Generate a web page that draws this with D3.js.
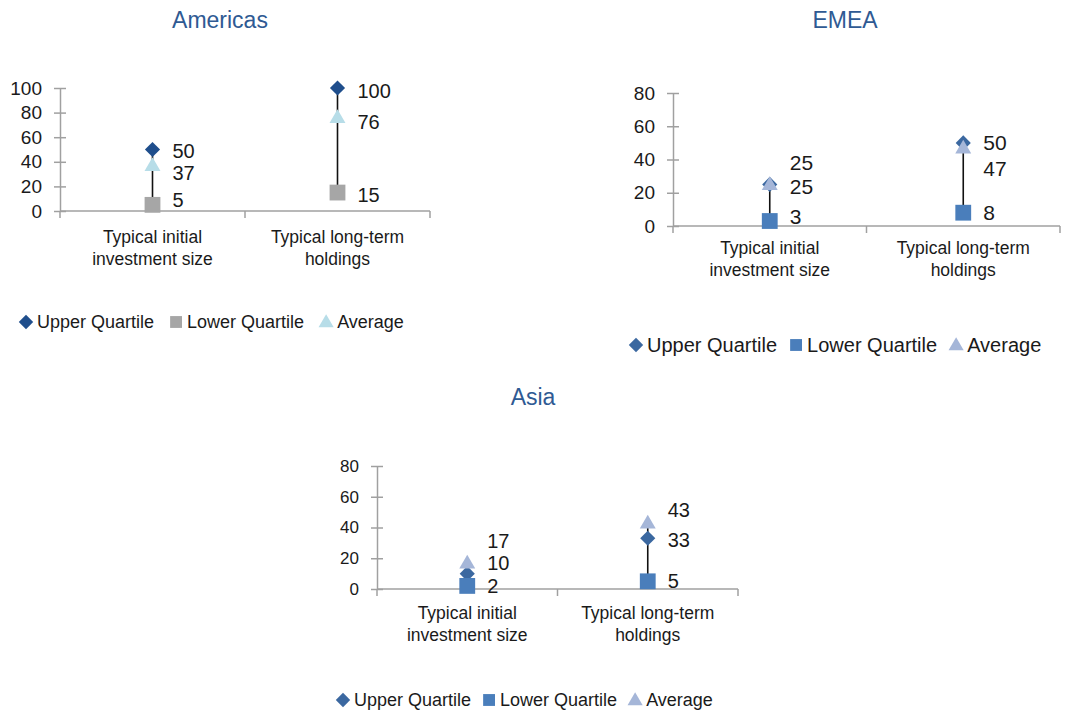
<!DOCTYPE html>
<html>
<head>
<meta charset="utf-8">
<script src="https://cdn.jsdelivr.net/npm/d3@7"></script>
<style>
  html, body { margin: 0; padding: 0; background: #fff; }
  svg { display: block; font-family: "Liberation Sans", Arial, sans-serif; }
</style>
</head>
<body>
<div id="chart"></div>
<script>
// ---- data ----
const categoryLines = [['Typical initial', 'investment size'], ['Typical long-term', 'holdings']];
const seriesNames = ['Upper Quartile', 'Lower Quartile', 'Average'];

const americasUpper = [50, 100];
const americasLower = [5, 15];
const americasAverage = [37, 76];
const americasTicks = [0, 20, 40, 60, 80, 100];

const emeaUpper = [25, 50];
const emeaLower = [3, 8];
const emeaAverage = [25, 47];
const emeaTicks = [0, 20, 40, 60, 80];

const asiaUpper = [10, 33];
const asiaLower = [2, 5];
const asiaAverage = [17, 43];
const asiaTicks = [0, 20, 40, 60, 80];

// ---- styles ----
const TITLE_COLOR = '#2f5a93';
const AXIS_COLOR = '#a0a0a0';
const TEXT_COLOR = '#1a1a1a';

const paletteA = { upper: '#1f4e8c', lower: '#a6a6a6', average: '#b7dde8' };
const paletteB = { upper: '#3b68a0', lower: '#4a7ebb', average: '#a5b6d8' };

// label nudges in px per category: [upper, lower, average] (keeps overlapping labels apart)
const panels = [
  {
    title: 'Americas', titleX: 220, titleY: 20,
    left: 60, right: 430, y0: 211, yTop: 88, max: 100, ticks: americasTicks,
    upper: americasUpper, lower: americasLower, average: americasAverage,
    palette: paletteA, tickFont: 19, labelFont: 20, catFont: 17.5, legendFont: 18,
    legendX: 20, legendY: 322, catY: 237, legendGap: 16,
    nudge: [[1, -5, 8], [3, 2, 4]]
  },
  {
    title: 'EMEA', titleX: 845, titleY: 20,
    left: 673, right: 1060, y0: 226, yTop: 93, max: 80, ticks: emeaTicks,
    upper: emeaUpper, lower: emeaLower, average: emeaAverage,
    palette: paletteB, tickFont: 19, labelFont: 21, catFont: 17.5, legendFont: 20,
    legendX: 630, legendY: 345, catY: 248, legendGap: 13,
    nudge: [[-22, -4, 2], [0, 0, 21]]
  },
  {
    title: 'Asia', titleX: 533, titleY: 397,
    left: 377, right: 738, y0: 589, yTop: 466, max: 80, ticks: asiaTicks,
    upper: asiaUpper, lower: asiaLower, average: asiaAverage,
    palette: paletteB, tickFont: 17, labelFont: 20, catFont: 17.5, legendFont: 18,
    legendX: 337, legendY: 700, catY: 613, legendGap: 12,
    nudge: [[-11, 0, -22], [2, 0, -13]]
  }
];

const W = 1065, H = 713;
const svg = d3.select('#chart').append('svg').attr('width', W).attr('height', H);

const symbols = {
  upper: d3.symbol().type(d3.symbolSquare).size(115),
  lower: d3.symbol().type(d3.symbolSquare).size(250),
  average: d3.symbol().type(d3.symbolTriangle).size(110)
};
const keys = ['upper', 'lower', 'average'];

function markerTransform(key, x, y, s) {
  if (key === 'upper') return `translate(${x},${y}) rotate(45) scale(${s})`;
  if (key === 'average') return `translate(${x},${y + 1}) scale(${s})`;
  return `translate(${x},${y}) scale(${s})`;
}

function drawMarker(g, key, color, x, y, s = 1) {
  return g.append('path')
    .attr('d', symbols[key]())
    .attr('fill', color)
    .attr('transform', markerTransform(key, x, y, s));
}

function drawPanel(cfg) {
  const g = svg.append('g');
  const idx = categoryLines.map((d, i) => i);

  const x = d3.scaleBand().domain(idx).range([cfg.left, cfg.right]);
  const y = d3.scaleLinear().domain([0, cfg.max]).range([cfg.y0, cfg.yTop]);

  g.append('text')
    .attr('x', cfg.titleX).attr('y', cfg.titleY).attr('dy', '0.35em')
    .attr('text-anchor', 'middle')
    .attr('font-size', 23)
    .attr('fill', TITLE_COLOR)
    .text(cfg.title);

  // y axis
  const yAxis = g.append('g')
    .attr('transform', `translate(${cfg.left},0)`)
    .call(d3.axisLeft(y).tickValues(cfg.ticks).tickSizeInner(6).tickSizeOuter(0).tickPadding(12));
  yAxis.select('.domain').attr('stroke', AXIS_COLOR).attr('stroke-width', 1.5);
  yAxis.selectAll('.tick line').attr('stroke', AXIS_COLOR).attr('stroke-width', 1.5).attr('x2', 6).attr('x1', -6);
  yAxis.selectAll('.tick text')
    .attr('font-size', cfg.tickFont).attr('fill', TEXT_COLOR)
    .attr('font-family', '"Liberation Sans", Arial, sans-serif');

  // x axis with category boundary ticks
  const xg = g.append('g').attr('transform', `translate(0,${cfg.y0})`);
  xg.append('line')
    .attr('x1', cfg.left).attr('x2', cfg.right)
    .attr('stroke', AXIS_COLOR).attr('stroke-width', 1.5);
  const bounds = idx.map(i => x(i)).concat([x(idx[idx.length - 1]) + x.bandwidth()]);
  xg.selectAll('line.bt').data(bounds).join('line')
    .attr('class', 'bt')
    .attr('x1', d => d).attr('x2', d => d)
    .attr('y1', 0).attr('y2', 7)
    .attr('stroke', AXIS_COLOR).attr('stroke-width', 1.5);

  const cx = i => x(i) + x.bandwidth() / 2;

  // category labels
  idx.forEach(i => {
    const t = g.append('text')
      .attr('x', cx(i)).attr('y', cfg.catY)
      .attr('text-anchor', 'middle')
      .attr('font-size', cfg.catFont)
      .attr('fill', TEXT_COLOR);
    categoryLines[i].forEach((line, k) => {
      t.append('tspan').attr('x', cx(i)).attr('dy', k === 0 ? '0.35em' : '1.25em').text(line);
    });
  });

  // high-low lines
  idx.forEach(i => {
    const vals = keys.map(k => cfg[k][i]);
    g.append('line')
      .attr('x1', cx(i)).attr('x2', cx(i))
      .attr('y1', y(d3.min(vals))).attr('y2', y(d3.max(vals)))
      .attr('stroke', '#111').attr('stroke-width', 1.6);
  });

  // markers, series order (average ends up on top)
  keys.forEach(k => {
    idx.forEach(i => drawMarker(g, k, cfg.palette[k], cx(i), y(cfg[k][i])));
  });

  // data labels
  idx.forEach(i => {
    keys.forEach((k, j) => {
      g.append('text')
        .attr('x', cx(i) + 20)
        .attr('y', y(cfg[k][i]) + cfg.nudge[i][j])
        .attr('dy', '0.35em')
        .attr('font-size', cfg.labelFont)
        .attr('fill', TEXT_COLOR)
        .text(cfg[k][i]);
    });
  });

  // legend
  const lg = g.append('g').attr('transform', `translate(${cfg.legendX},${cfg.legendY})`);
  let lx = 0;
  keys.forEach((k, j) => {
    drawMarker(lg, k, cfg.palette[k], lx + 6, 0, k === 'lower' ? 0.75 : 0.95);
    const t = lg.append('text')
      .attr('x', lx + 17).attr('y', 0).attr('dy', '0.35em')
      .attr('font-size', cfg.legendFont)
      .attr('fill', TEXT_COLOR)
      .text(seriesNames[j]);
    lx += 17 + t.node().getComputedTextLength() + cfg.legendGap;
  });
}

panels.forEach(drawPanel);
</script>
</body>
</html>
